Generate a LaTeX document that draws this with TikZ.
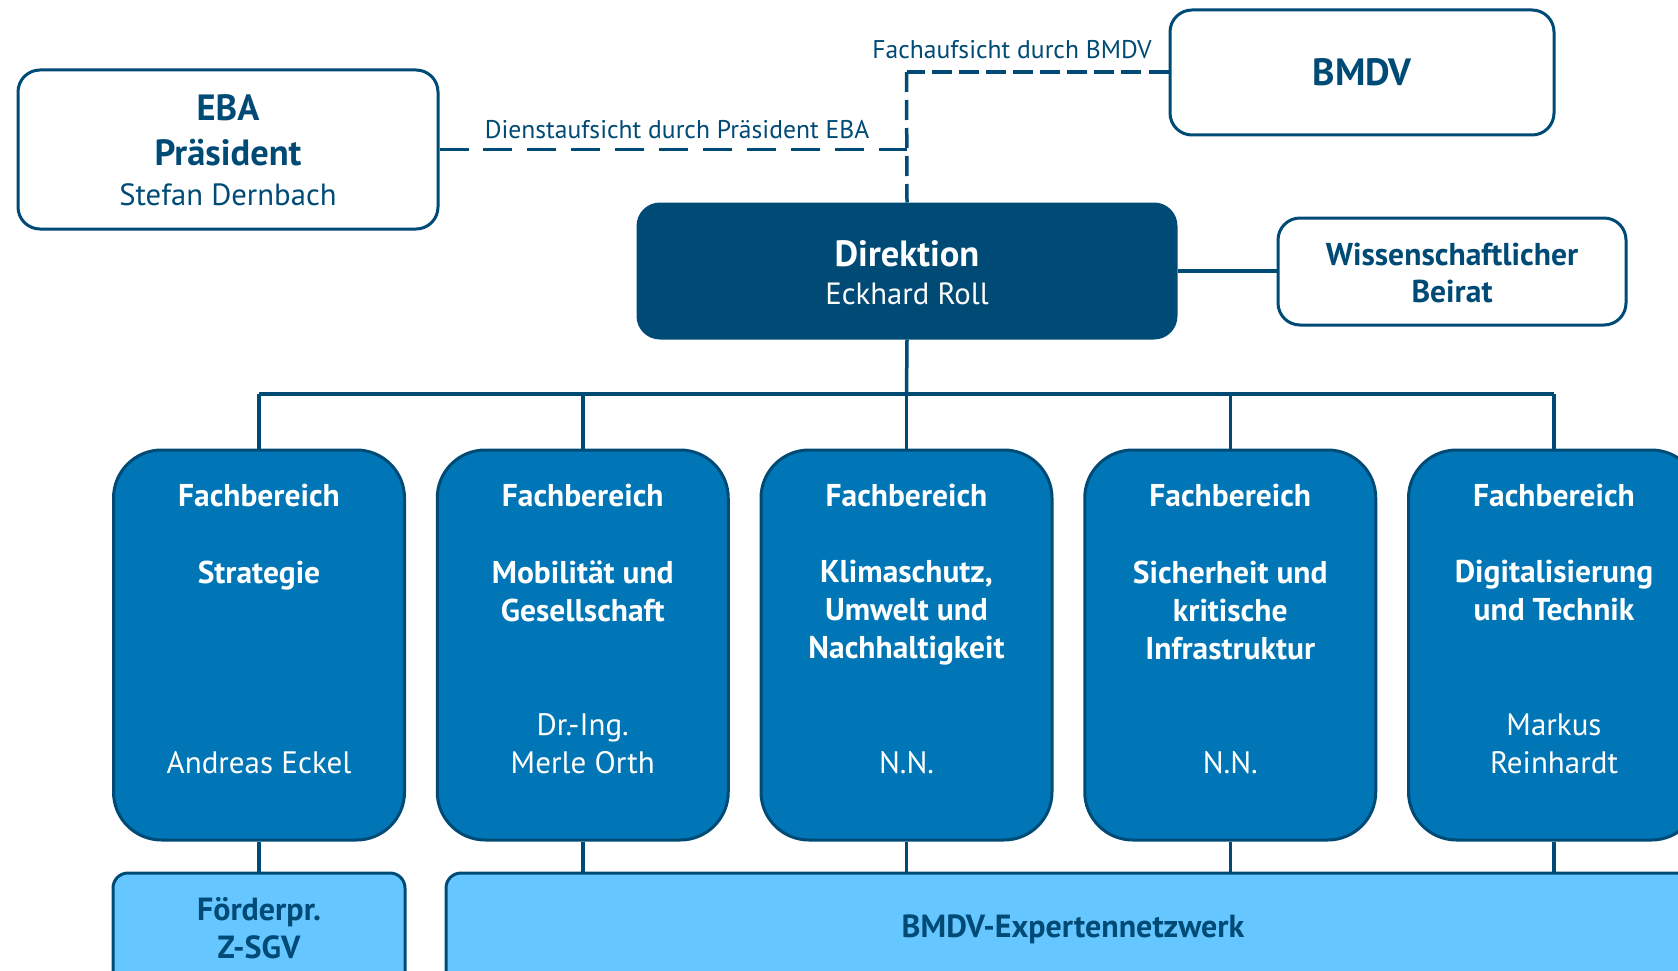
\documentclass[tikz,border=0pt]{standalone}
\usepackage{fontspec}
\setmainfont{PT Sans}
\definecolor{navy}{HTML}{004A76}
\definecolor{midblue}{HTML}{0076B6}
\definecolor{lightblue}{HTML}{66C6FF}
\begin{document}
\begin{tikzpicture}[x=1pt,y=-1pt,
  box/.style={draw=navy,line width=3pt,rectangle,inner sep=0pt},
  whitebox/.style={box,fill=white,rounded corners=22pt},
  fbbox/.style={box,fill=midblue,rounded corners=48pt,minimum width=291pt,minimum height=390pt},
  lowbox/.style={box,fill=lightblue,rounded corners=15pt},
  big/.style={font=\fontsize{36.5}{45}\selectfont\bfseries,text=navy},
  reg/.style={font=\fontsize{30.7}{40}\selectfont,text=navy},
  fbhead/.style={font=\fontsize{31.5}{38}\selectfont\bfseries,text=white,align=center,anchor=north},
  fbname/.style={font=\fontsize{31}{38}\selectfont,text=white,align=center,anchor=south},
  lbl/.style={font=\fontsize{25.6}{28}\selectfont,text=navy},
  conn/.style={draw=navy,line width=3.5pt},
  dashA/.style={conn,dash pattern=on 20pt off 7.06pt},
  dashV/.style={conn,dash pattern=on 20pt off 8pt},
  dashB/.style={conn,dash pattern=on 29pt off 14.95pt}
]
\useasboundingbox (0,0) rectangle (1678,971);
\clip (0,0) rectangle (1678,971);

% top boxes
\node[whitebox,minimum width=420pt,minimum height=159pt] (eba) at (228,149.5) {};
\node[big] (ebaA) at (228,108) {EBA};
\node[big] (ebaB) at (228,153) {Präsident};
\node[reg] (ebaC) at (228,195) {Stefan Dernbach};

\node[whitebox,minimum width=384pt,minimum height=125pt] (bmdv) at (1362,72.5) {};
\node[big,font=\fontsize{38}{45}\selectfont\bfseries] (bmdvT) at (1362,72) {BMDV};

\node[box,fill=navy,rounded corners=22pt,minimum width=538pt,minimum height=134pt] (dir) at (907,271) {};
\node[big,text=white] (dirA) at (907,254) {Direktion};
\node[reg,text=white] (dirB) at (907,294) {Eckhard Roll};

\node[whitebox,minimum width=348pt,minimum height=107pt] (wb) at (1452,271.5) {};
\node[font=\fontsize{31.6}{37}\selectfont\bfseries,text=navy,align=center] (wbT) at (1452,273) {Wissenschaftlicher\\Beirat};

% Fachbereiche
\foreach \i/\x in {1/259,2/582.75,3/906.5,4/1230.25,5/1554}{
  \node[fbbox] (fb\i) at (\x,645) {};
  \node[fbhead] (fbh\i) at (\x,480.5) {Fachbereich};
}
\node[fbhead] (fbt1) at (259,557) {Strategie};
\node[fbhead] (fbt2) at (582.75,557) {Mobilität und\\Gesellschaft};
\node[fbhead] (fbt3) at (906.5,557) {Klimaschutz,\\Umwelt und\\Nachhaltigkeit};
\node[fbhead] (fbt4) at (1230.25,557) {Sicherheit und\\kritische\\Infrastruktur};
\node[fbhead] (fbt5) at (1554,557) {Digitalisierung\\und Technik};

\node[fbname] (fbn1) at (259,777) {Andreas Eckel};
\node[fbname] (fbn2) at (582.75,777) {Dr.-Ing.\\Merle Orth};
\node[fbname] (fbn3) at (906.5,777) {N.N.};
\node[fbname] (fbn4) at (1230.25,777) {N.N.};
\node[fbname] (fbn5) at (1554,777) {Markus\\Reinhardt};

% lower boxes
\node[lowbox,minimum width=292pt,minimum height=140pt] (foe) at (259,943) {};
\node[font=\fontsize{32}{38}\selectfont\bfseries,text=navy,align=center] (foeT) at (259,928) {Förderpr.\\Z-SGV};
\node[lowbox,minimum width=1280pt,minimum height=140pt] (netz) at (1086,943) {};
\node[font=\fontsize{32}{38}\selectfont\bfseries,text=navy] (netzT) at (1073,929) {BMDV-Expertennetzwerk};

% connectors
\coordinate (bus) at (906.5,394);
\draw[conn] (dir.south) -- (bus);
\draw[conn] (fb1.north |- bus) -- (fb5.north |- bus);
\foreach \i in {1,...,5}{
  \draw[conn] (fb\i.north |- bus) -- (fb\i.north);
}
\draw[conn] (fb1.south) -- (fb1.south |- foe.north);
\foreach \i in {2,...,5}{
  \draw[conn] (fb\i.south) -- (fb\i.south |- netz.north);
}
\draw[conn] (dir.east) -- (wb.west |- dir.east);

\coordinate (corner) at (906.5,72);
\draw[dashA] (bmdv.west |- corner) -- (corner);
\draw[dashV] (corner) -- (dir.north);
\draw[dashB] (eba.east) -- (eba.east -| dir.north);

\node[lbl] (lblF) at (1012,50) {Fachaufsicht durch BMDV};
\node[lbl] (lblD) at (677,130) {Dienstaufsicht durch Präsident EBA};
\end{tikzpicture}
\end{document}
